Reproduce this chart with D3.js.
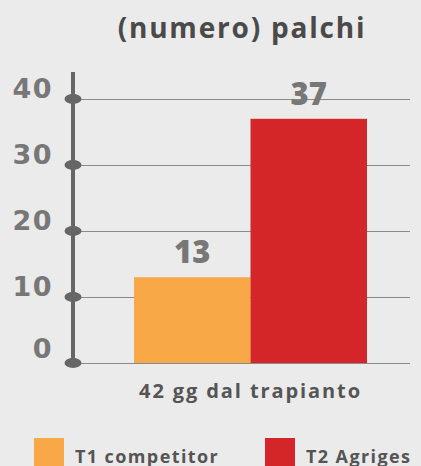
<!DOCTYPE html>
<html>
<head>
<meta charset="utf-8">
<script src="https://cdn.jsdelivr.net/npm/d3@7"></script>
<style>
  html, body { margin: 0; padding: 0; background: #ebebeb; }
  svg { display: block; font-family: "Open Sans", Lato, sans-serif; }
</style>
</head>
<body>
<div id="chart"></div>
<script>
// chart values
var categories = ["42 gg dal trapianto"];
var series = ["T1 competitor", "T2 Agriges"];
var values = [13, 37];
var colors = ["#f9a847", "#d42628"];
var yTicks = [0, 10, 20, 30, 40];
var title = "(numero) palchi";

var W = 421, H = 466;

var svg = d3.select("#chart").append("svg")
	.attr("width", W)
	.attr("height", H);

svg.append("rect")
	.attr("width", W)
	.attr("height", H)
	.attr("fill", "#ebebeb");

// scales
var y = d3.scaleLinear()
	.domain([0, 40])
	.range([363, 99]);

var x0 = d3.scaleBand()
	.domain(categories)
	.range([134, 367])
	.padding(0);

var x1 = d3.scaleBand()
	.domain(series)
	.range([0, x0.bandwidth()])
	.padding(0);

var axisX = 73;

// gridlines
svg.append("g")
	.selectAll("line")
	.data(yTicks)
	.enter()
	.append("line")
	.attr("x1", axisX)
	.attr("x2", 410)
	.attr("y1", function(d) { return y(d) + 0.5; })
	.attr("y2", function(d) { return y(d) + 0.5; })
	.attr("stroke", "#8a8a8a")
	.attr("stroke-width", 1);

// bars
svg.append("g")
	.selectAll("rect")
	.data(values)
	.enter()
	.append("rect")
	.attr("x", function(d, i) { return x0(categories[0]) + x1(series[i]); })
	.attr("y", function(d) { return y(d); })
	.attr("width", x1.bandwidth())
	.attr("height", function(d) { return y(0) - y(d); })
	.attr("fill", function(d, i) { return colors[i]; });

// value labels
svg.append("g")
	.selectAll("text")
	.data(values)
	.enter()
	.append("text")
	.attr("x", function(d, i) { return x0(categories[0]) + x1(series[i]) + x1.bandwidth() / 2; })
	.attr("y", function(d) { return y(d) - 14; })
	.attr("text-anchor", "middle")
	.style("font-size", "31px")
	.style("font-weight", 800)
	.style("fill", "#777")
	.text(function(d) { return d; });

// y axis: thick line with oval ticks
svg.append("line")
	.attr("x1", axisX)
	.attr("x2", axisX)
	.attr("y1", 72)
	.attr("y2", y(0))
	.attr("stroke", "#666")
	.attr("stroke-width", 4);

var ticks = svg.append("g")
	.selectAll("g")
	.data(yTicks)
	.enter()
	.append("g")
	.attr("transform", function(d) { return "translate(" + axisX + "," + y(d) + ")"; });

ticks.append("ellipse")
	.attr("rx", 8.5)
	.attr("ry", 5)
	.attr("fill", "#666");

ticks.append("text")
	.attr("x", -20)
	.attr("y", function(d) { return d === 0 ? -5 : -1; })
	.attr("text-anchor", "end")
	.style("font-family", "'DejaVu Sans', sans-serif")
	.style("font-size", "27px")
	.style("font-weight", 700)
	.style("letter-spacing", "1.5px")
	.style("fill", "#777")
	.text(function(d) { return d; });

// category label
svg.append("text")
	.attr("x", x0(categories[0]) + x0.bandwidth() / 2)
	.attr("y", 398)
	.attr("text-anchor", "middle")
	.style("font-size", "20px")
	.style("font-weight", 700)
	.style("letter-spacing", "1.9px")
	.style("fill", "#555")
	.text(categories[0]);

// title
svg.append("text")
	.attr("x", 242)
	.attr("y", 38)
	.attr("text-anchor", "middle")
	.style("font-size", "28px")
	.style("font-weight", 700)
	.style("letter-spacing", "1.8px")
	.style("fill", "#4a4a4a")
	.text(title);

// legend
var legendX = [34, 265];
var legend = svg.append("g")
	.selectAll("g")
	.data(series)
	.enter()
	.append("g")
	.attr("transform", function(d, i) { return "translate(" + legendX[i] + ",438)"; });

legend.append("rect")
	.attr("width", 30)
	.attr("height", 30)
	.attr("fill", function(d, i) { return colors[i]; });

legend.append("text")
	.attr("x", 41)
	.attr("y", 25)
	.style("font-size", "18px")
	.style("font-weight", 700)
	.style("letter-spacing", "1.4px")
	.style("fill", "#555")
	.text(function(d) { return d; });
</script>
</body>
</html>
